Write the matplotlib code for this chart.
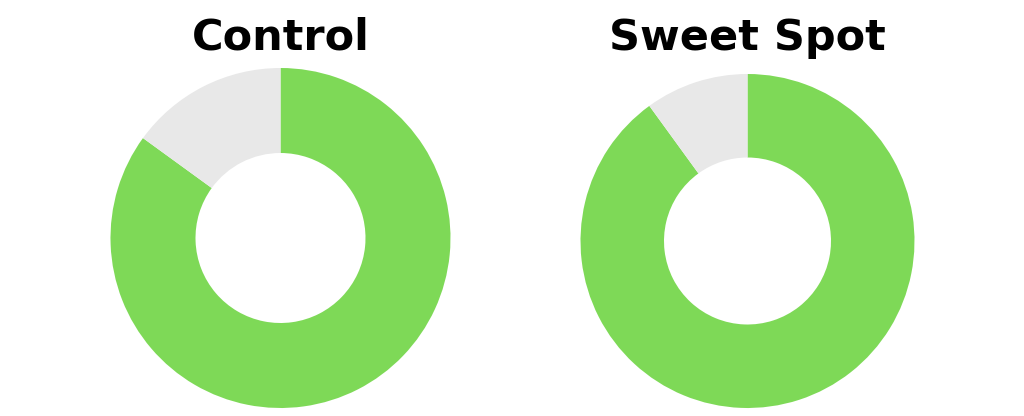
import matplotlib
matplotlib.use("Agg")
import matplotlib.pyplot as plt

titles = ["Control", "Sweet Spot"]
green_share = [85, 90]
grey_share = [15, 10]
colors = ["#7ED957", "#E8E8E8"]

H = 416
fig = plt.figure(figsize=(10.24, 4.16), dpi=100)
ax = fig.add_axes([0, 0, 1, 1])

centers = [(280.5, H - 238), (747.5, H - 241)]
radii = [170, 167]
for title, g, r_, c, R in zip(titles, green_share, grey_share, centers, radii):
    ax.pie([g, r_], colors=colors, startangle=90, counterclock=False,
           center=c, radius=R, wedgeprops=dict(width=R * 0.5, linewidth=0))
    ax.text(c[0], H - 50, title, ha="center", va="baseline", fontsize=31,
            fontweight="bold", family="DejaVu Sans", color="#000000")

ax.set_xlim(0, 1024)
ax.set_ylim(0, H)
ax.set_aspect("equal")
ax.axis("off")
fig.savefig("out.png", dpi=100)
